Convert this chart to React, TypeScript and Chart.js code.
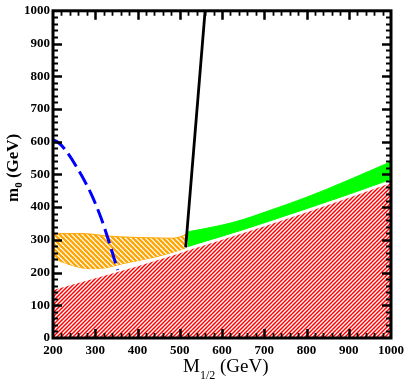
import React, { useEffect, useRef } from "react";
import { Chart, registerables } from "chart.js";

Chart.register(...registerables);

// ---- data (M1/2 in GeV, m0 in GeV) ----
const X_TICKS = [200, 300, 400, 500, 600, 700, 800, 900, 1000];
const Y_TICKS = [0, 100, 200, 300, 400, 500, 600, 700, 800, 900, 1000];

const RED_X = [200, 300, 400, 500, 520, 600, 700, 800, 900, 1000];
const RED_M0 = [150, 186, 223, 263, 272, 304, 345, 388, 432, 478];

const GREEN_X = [518, 600, 650, 700, 800, 900, 1000];
const GREEN_LOW = [279, 311, 331, 352, 395, 439, 485];
const GREEN_HIGH = [324, 345, 362, 384, 430, 483, 539];

const ORANGE_X = [200, 250, 287, 326, 364, 403, 443, 481, 505, 515];
const ORANGE_LOW = [243, 220, 212, 215, 227, 237, 248, 260, 267, 271];
const ORANGE_HIGH = [319, 319, 318, 312, 309, 307, 306, 305, 311, 318];

const BLUE_X = [200, 210, 228, 259, 290, 314, 333, 353];
const BLUE_M0 = [605, 600, 577, 516, 441, 366, 292, 208];

const BLACK_X = [514, 560];
const BLACK_M0 = [277, 1000];

const X_TITLE_MAIN = "M";
const X_TITLE_SUB = "1/2";
const X_TITLE_REST = " (GeV)";
const Y_TITLE_MAIN = "m";
const Y_TITLE_SUB = "0";
const Y_TITLE_REST = " (GeV)";

const SERIF = '"Liberation Serif", "Times New Roman", serif';

const pts = (xs: number[], ys: number[]) => xs.map((x, i) => ({ x, y: ys[i] }));

function makeStripePattern(period: number, bg: string, fg: string, width: number, slash: boolean) {
  const c = document.createElement("canvas");
  c.width = period;
  c.height = period;
  const g = c.getContext("2d")!;
  g.fillStyle = bg;
  g.fillRect(0, 0, period, period);
  g.strokeStyle = fg;
  g.lineWidth = width;
  const P = period;
  for (let k = -2; k <= 3; k++) {
    const cc = k * P;
    g.beginPath();
    if (slash) {
      g.moveTo(cc + 2 * P, -2 * P);
      g.lineTo(cc - 2 * P, 2 * P);
    } else {
      g.moveTo(cc - 2 * P, -2 * P);
      g.lineTo(cc + 2 * P, 2 * P);
    }
    g.stroke();
  }
  return g.createPattern(c, "repeat")!;
}

const framePlugin = {
  id: "frameTicks",
  afterDraw(chart: any) {
    const { ctx, chartArea } = chart;
    const { left, right, top, bottom } = chartArea;
    const xs = chart.scales.x;
    const ys = chart.scales.y;
    ctx.save();
    ctx.strokeStyle = "#000";
    ctx.lineCap = "butt";
    for (let v = xs.min + 20; v < xs.max; v += 20) {
      const p = Math.round(xs.getPixelForValue(v)) + 0.5;
      const major = v % 100 === 0;
      const len = major ? 9 : 5;
      ctx.lineWidth = major ? 2.5 : 1.8;
      ctx.beginPath();
      ctx.moveTo(p, bottom);
      ctx.lineTo(p, bottom - len);
      ctx.moveTo(p, top);
      ctx.lineTo(p, top + len);
      ctx.stroke();
    }
    for (let v = ys.min + 20; v < ys.max; v += 20) {
      const p = Math.round(ys.getPixelForValue(v)) + 0.5;
      const major = v % 100 === 0;
      const len = major ? 9 : 5;
      ctx.lineWidth = major ? 2.5 : 1.8;
      ctx.beginPath();
      ctx.moveTo(left, p);
      ctx.lineTo(left + len, p);
      ctx.moveTo(right, p);
      ctx.lineTo(right - len, p);
      ctx.stroke();
    }
    ctx.lineWidth = 3;
    ctx.strokeRect(left, top, right - left, bottom - top);

    // axis titles
    ctx.fillStyle = "#000";
    ctx.textBaseline = "alphabetic";
    ctx.textAlign = "left";
    let x = 183;
    const base = 372;
    ctx.font = `19px ${SERIF}`;
    ctx.fillText(X_TITLE_MAIN, x, base);
    x += ctx.measureText(X_TITLE_MAIN).width;
    ctx.font = `12px ${SERIF}`;
    ctx.fillText(X_TITLE_SUB, x, base + 7);
    x += ctx.measureText(X_TITLE_SUB).width;
    ctx.font = `19px ${SERIF}`;
    ctx.fillText(X_TITLE_REST, x, base);

    ctx.translate(17.5, 202);
    ctx.rotate(-Math.PI / 2);
    let t = 0;
    ctx.font = `bold 17px ${SERIF}`;
    ctx.fillText(Y_TITLE_MAIN, t, 0);
    t += ctx.measureText(Y_TITLE_MAIN).width;
    ctx.font = `bold 11px ${SERIF}`;
    ctx.fillText(Y_TITLE_SUB, t, 4);
    t += ctx.measureText(Y_TITLE_SUB).width;
    ctx.font = `bold 17px ${SERIF}`;
    ctx.fillText(Y_TITLE_REST, t, 0);
    ctx.restore();
  },
};

export default function App() {
  const ref = useRef<HTMLCanvasElement>(null);

  useEffect(() => {
    document.body.style.margin = "0";
    const canvas = ref.current!;
    const redPat = makeStripePattern(4, "#ff0000", "#ffffff", 1.3, true);
    const orangePat = makeStripePattern(5, "#ffffff", "#ffa500", 2.3, false);

    const tickFont = { family: SERIF, size: 13, weight: "bold" as const };
    const fmt = (v: any) => String(v);

    const chart = new Chart(canvas, {
      type: "line",
      data: {
        datasets: [
          {
            label: "black",
            data: pts(BLACK_X, BLACK_M0),
            borderColor: "#000",
            borderWidth: 2.8,
            fill: false,
            order: 0,
          },
          {
            label: "blue",
            data: pts(BLUE_X, BLUE_M0),
            borderColor: "#0000ff",
            borderWidth: 3,
            borderDash: [15, 6],
            cubicInterpolationMode: "monotone",
            fill: false,
            order: 1,
          },
          {
            label: "red",
            data: pts(RED_X, RED_M0),
            borderColor: "#ffffff",
            borderWidth: 2.5,
            backgroundColor: redPat,
            fill: "start",
            order: 2,
          },
          {
            label: "greenLow",
            data: pts(GREEN_X, GREEN_LOW),
            borderColor: "#00ff00",
            borderWidth: 1,
            cubicInterpolationMode: "monotone",
            fill: false,
            order: 6,
          },
          {
            label: "greenHigh",
            data: pts(GREEN_X, GREEN_HIGH),
            borderColor: "#00ff00",
            borderWidth: 1,
            backgroundColor: "#00ff00",
            cubicInterpolationMode: "monotone",
            fill: "-1",
            order: 4,
          },
          {
            label: "orangeLow",
            data: pts(ORANGE_X, ORANGE_LOW),
            borderColor: "#ffa500",
            borderWidth: 1,
            cubicInterpolationMode: "monotone",
            fill: false,
            order: 7,
          },
          {
            label: "orangeHigh",
            data: pts(ORANGE_X, ORANGE_HIGH),
            borderColor: "#ffa500",
            borderWidth: 1,
            backgroundColor: orangePat,
            cubicInterpolationMode: "monotone",
            fill: "-1",
            order: 5,
          },
        ],
      },
      options: {
        responsive: false,
        animation: false,
        layout: { padding: { top: 6, right: 14, left: 0, bottom: 0 } },
        plugins: { legend: { display: false }, tooltip: { enabled: false } },
        elements: { point: { radius: 0 }, line: { tension: 0 } },
        scales: {
          x: {
            type: "linear",
            min: 200,
            max: 1000,
            afterBuildTicks: (s: any) => {
              s.ticks = X_TICKS.map((v) => ({ value: v }));
            },
            ticks: { font: tickFont, color: "#000", padding: 5, maxRotation: 0, autoSkip: false, callback: fmt },
            grid: { display: false, drawTicks: false },
            border: { display: false },
            afterFit: (s: any) => {
              s.height = 44;
            },
          },
          y: {
            type: "linear",
            min: 0,
            max: 1000,
            afterBuildTicks: (s: any) => {
              s.ticks = Y_TICKS.map((v) => ({ value: v }));
            },
            ticks: { font: tickFont, color: "#000", padding: 3, autoSkip: false, callback: fmt },
            grid: { display: false, drawTicks: false },
            border: { display: false },
            afterFit: (s: any) => {
              s.width = 53;
            },
          },
        },
      } as any,
      plugins: [framePlugin],
    });
    return () => chart.destroy();
  }, []);

  return (
    <div style={{ position: "absolute", left: 0, top: 0, width: 409, height: 382 }}>
      <canvas ref={ref} width={409} height={382} style={{ display: "block", width: 409, height: 382 }} />
    </div>
  );
}
